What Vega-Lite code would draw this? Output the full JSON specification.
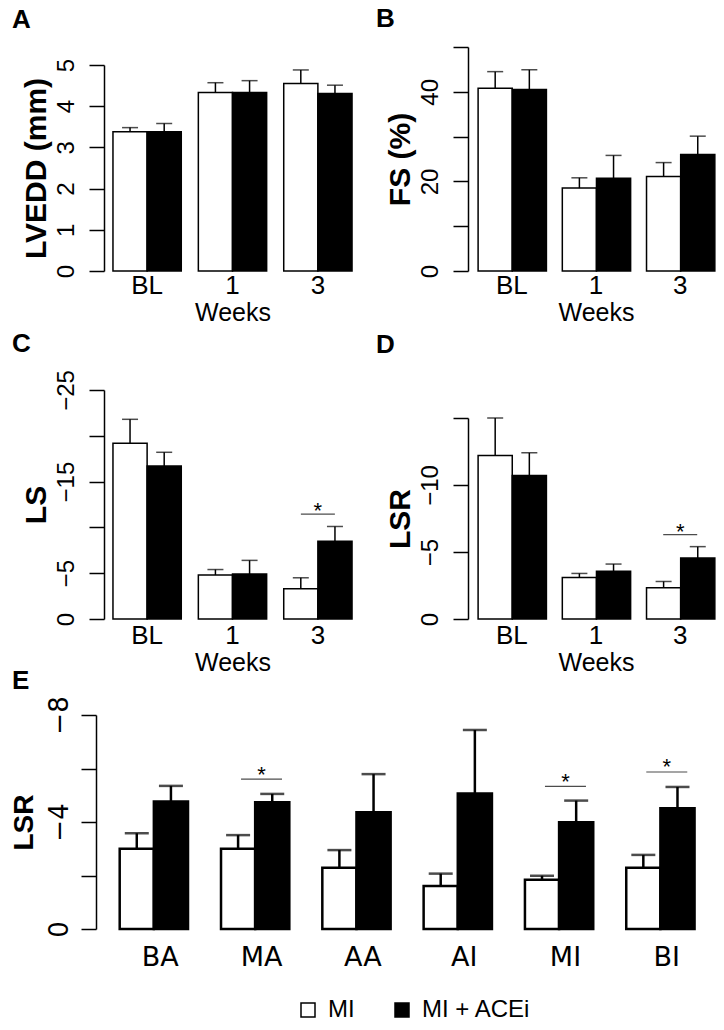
{
  "$schema": "https://vega.github.io/schema/vega-lite/v6.json",
  "padding": {"left": 10, "top": 6, "right": 0, "bottom": 0},
  "background": "white",
  "config": {
    "view": {"stroke": null},
    "font": "Liberation Sans",
    "axis": {"grid": false, "domainColor": "black", "tickColor": "black", "labelColor": "black", "titleColor": "black", "domainWidth": 1.5, "tickWidth": 1.5},
    "concat": {"spacing": 15},
    "legend": {"orient": "none", "legendX": 192, "legendY": 951, "direction": "horizontal", "title": null, "symbolType": "square", "symbolSize": 196, "symbolStrokeColor": "black", "symbolStrokeWidth": 1.5, "labelFont": "Liberation Sans", "labelFontSize": 24, "labelColor": "black", "labelOffset": 8, "columnPadding": 35, "padding": 0, "labelLimit": 300}
  },
  "datasets": {
    "A": [
      {"group": "BL", "trt": "MI", "value": 3.38, "err": 3.48},
      {"group": "BL", "trt": "MI + ACEi", "value": 3.38, "err": 3.58},
      {"group": "1", "trt": "MI", "value": 4.33, "err": 4.57},
      {"group": "1", "trt": "MI + ACEi", "value": 4.33, "err": 4.62},
      {"group": "3", "trt": "MI", "value": 4.55, "err": 4.88},
      {"group": "3", "trt": "MI + ACEi", "value": 4.31, "err": 4.51}
    ],
    "B": [
      {"group": "BL", "trt": "MI", "value": 40.8, "err": 44.5},
      {"group": "BL", "trt": "MI + ACEi", "value": 40.5, "err": 44.9},
      {"group": "1", "trt": "MI", "value": 18.5, "err": 20.8},
      {"group": "1", "trt": "MI + ACEi", "value": 20.7, "err": 25.8},
      {"group": "3", "trt": "MI", "value": 21.1, "err": 24.2},
      {"group": "3", "trt": "MI + ACEi", "value": 26.0, "err": 30.1}
    ],
    "C": [
      {"group": "BL", "trt": "MI", "value": -19.2, "err": -21.8},
      {"group": "BL", "trt": "MI + ACEi", "value": -16.7, "err": -18.2},
      {"group": "1", "trt": "MI", "value": -4.8, "err": -5.4},
      {"group": "1", "trt": "MI + ACEi", "value": -4.9, "err": -6.4},
      {"group": "3", "trt": "MI", "value": -3.3, "err": -4.5},
      {"group": "3", "trt": "MI + ACEi", "value": -8.5, "err": -10.1}
    ],
    "Csig": [{"group": "3", "line": -11.45, "star": -11.0}],
    "D": [
      {"group": "BL", "trt": "MI", "value": -12.2, "err": -15.0},
      {"group": "BL", "trt": "MI + ACEi", "value": -10.7, "err": -12.4},
      {"group": "1", "trt": "MI", "value": -3.1, "err": -3.4},
      {"group": "1", "trt": "MI + ACEi", "value": -3.56, "err": -4.1},
      {"group": "3", "trt": "MI", "value": -2.34, "err": -2.8},
      {"group": "3", "trt": "MI + ACEi", "value": -4.55, "err": -5.4}
    ],
    "Dsig": [{"group": "3", "line": -6.3, "star": -6.0}],
    "E": [
      {"group": "BA", "trt": "MI", "value": -3.0, "err": -3.58},
      {"group": "BA", "trt": "MI + ACEi", "value": -4.77, "err": -5.35},
      {"group": "MA", "trt": "MI", "value": -3.0, "err": -3.51},
      {"group": "MA", "trt": "MI + ACEi", "value": -4.74, "err": -5.05},
      {"group": "AA", "trt": "MI", "value": -2.29, "err": -2.95},
      {"group": "AA", "trt": "MI + ACEi", "value": -4.36, "err": -5.79},
      {"group": "AI", "trt": "MI", "value": -1.61, "err": -2.07},
      {"group": "AI", "trt": "MI + ACEi", "value": -5.07, "err": -7.44},
      {"group": "MI", "trt": "MI", "value": -1.84, "err": -1.99},
      {"group": "MI", "trt": "MI + ACEi", "value": -3.99, "err": -4.8},
      {"group": "BI", "trt": "MI", "value": -2.29, "err": -2.77},
      {"group": "BI", "trt": "MI + ACEi", "value": -4.51, "err": -5.31}
    ],
    "Esig": [
      {"group": "MA", "line": -5.6, "star": -5.51},
      {"group": "MI", "line": -5.33, "star": -5.25},
      {"group": "BI", "line": -5.87, "star": -5.81}
    ]
  },
  "spacing": -8,
  "vconcat": [
    {
      "spacing": 5,
      "vconcat": [
        {
          "hconcat": [
            {
              "title": {"text": "A", "anchor": "start", "frame": "group", "dx": -92, "offset": 14, "fontSize": 26, "fontWeight": "bold", "color": "black"},
              "width": 257, "height": 224,
              "data": {"name": "A"},
              "encoding": {
                "x": {"field": "group", "type": "nominal", "sort": ["BL", "1", "3"], "scale": {"paddingInner": 0.2, "paddingOuter": 0.105}, "title": "Weeks",
                  "axis": {"domain": false, "ticks": false, "tickSize": 0, "labelAngle": 0, "labelFontSize": 26, "labelPadding": 1, "titleFontSize": 25, "titleFontWeight": "normal", "titlePadding": 2}},
                "xOffset": {"field": "trt", "type": "nominal", "sort": ["MI", "MI + ACEi"], "scale": {"paddingInner": 0, "paddingOuter": 0}}
              },
              "layer": [
                {"mark": {"type": "bar", "stroke": "black", "strokeWidth": 1.5},
                  "encoding": {
                    "y": {"field": "value", "type": "quantitative", "scale": {"domain": [0, 5], "nice": false, "range": [224, 18]}, "title": "LVEDD (mm)",
                      "axis": {"values": [0, 1, 2, 3, 4, 5], "tickSize": 15, "labelAngle": -90, "labelAlign": "center", "labelBaseline": "bottom", "labelFontSize": 24, "labelPadding": 11, "titleFontSize": 30, "titleFontWeight": "bold", "titlePadding": 3}},
                    "fill": {"field": "trt", "type": "nominal", "scale": {"domain": ["MI", "MI + ACEi"], "range": ["white", "black"]}}
                  }},
                {"mark": {"type": "rule", "color": "black", "strokeWidth": 1.5}, "encoding": {"y": {"field": "value", "type": "quantitative"}, "y2": {"field": "err"}}},
                {"mark": {"type": "tick", "orient": "horizontal", "size": 16, "thickness": 1.5, "color": "black"}, "encoding": {"y": {"field": "err", "type": "quantitative"}}}
              ]
            },
            {
              "title": {"text": "B", "anchor": "start", "frame": "group", "dx": -92, "offset": 14, "fontSize": 26, "fontWeight": "bold", "color": "black"},
              "width": 256, "height": 224,
              "data": {"name": "B"},
              "encoding": {
                "x": {"field": "group", "type": "nominal", "sort": ["BL", "1", "3"], "scale": {"paddingInner": 0.2, "paddingOuter": 0.12}, "title": "Weeks",
                  "axis": {"domain": false, "ticks": false, "tickSize": 0, "labelAngle": 0, "labelFontSize": 26, "labelPadding": 1, "titleFontSize": 25, "titleFontWeight": "normal", "titlePadding": 2}},
                "xOffset": {"field": "trt", "type": "nominal", "sort": ["MI", "MI + ACEi"], "scale": {"paddingInner": 0, "paddingOuter": 0}}
              },
              "layer": [
                {"mark": {"type": "bar", "stroke": "black", "strokeWidth": 1.5},
                  "encoding": {
                    "y": {"field": "value", "type": "quantitative", "scale": {"domain": [0, 50], "nice": false}, "title": "FS (%)",
                      "axis": {"values": [0, 10, 20, 30, 40, 50], "labelExpr": "datum.value == 10 || datum.value == 30 || datum.value == 50 ? '' : datum.label", "tickSize": 15, "labelAngle": -90, "labelAlign": "center", "labelBaseline": "bottom", "labelFontSize": 24, "labelPadding": 11, "titleFontSize": 30, "titleFontWeight": "bold", "titlePadding": 3}},
                    "fill": {"field": "trt", "type": "nominal", "scale": {"domain": ["MI", "MI + ACEi"], "range": ["white", "black"]}}
                  }},
                {"mark": {"type": "rule", "color": "black", "strokeWidth": 1.5}, "encoding": {"y": {"field": "value", "type": "quantitative"}, "y2": {"field": "err"}}},
                {"mark": {"type": "tick", "orient": "horizontal", "size": 16, "thickness": 1.5, "color": "black"}, "encoding": {"y": {"field": "err", "type": "quantitative"}}}
              ]
            }
          ]
        },
        {
          "hconcat": [
            {
              "title": {"text": "C", "anchor": "start", "frame": "group", "dx": -92, "offset": 13, "fontSize": 26, "fontWeight": "bold", "color": "black"},
              "width": 257, "height": 229,
              "encoding": {
                "x": {"field": "group", "type": "nominal", "sort": ["BL", "1", "3"], "scale": {"paddingInner": 0.2, "paddingOuter": 0.105}, "title": "Weeks",
                  "axis": {"domain": false, "ticks": false, "tickSize": 0, "labelAngle": 0, "labelFontSize": 26, "labelPadding": 3, "titleFontSize": 25, "titleFontWeight": "normal", "titlePadding": 2}}
              },
              "layer": [
                {"data": {"name": "C"}, "mark": {"type": "bar", "stroke": "black", "strokeWidth": 1.5},
                  "encoding": {
                    "xOffset": {"field": "trt", "type": "nominal", "sort": ["MI", "MI + ACEi"], "scale": {"paddingInner": 0, "paddingOuter": 0}},
                    "y": {"field": "value", "type": "quantitative", "scale": {"domain": [0, -25], "nice": false}, "title": "LS",
                      "axis": {"values": [0, -5, -10, -15, -20, -25], "labelExpr": "datum.value == -10 || datum.value == -20 ? '' : datum.label", "tickSize": 15, "labelAngle": -90, "labelAlign": "center", "labelBaseline": "bottom", "labelFontSize": 24, "labelPadding": 11, "titleFontSize": 30, "titleFontWeight": "bold", "titlePadding": 3}},
                    "fill": {"field": "trt", "type": "nominal", "scale": {"domain": ["MI", "MI + ACEi"], "range": ["white", "black"]}}
                  }},
                {"data": {"name": "C"}, "mark": {"type": "rule", "color": "black", "strokeWidth": 1.5}, "encoding": {"xOffset": {"field": "trt", "type": "nominal", "sort": ["MI", "MI + ACEi"]}, "y": {"field": "value", "type": "quantitative"}, "y2": {"field": "err"}}},
                {"data": {"name": "C"}, "mark": {"type": "tick", "orient": "horizontal", "size": 16, "thickness": 1.5, "color": "black"}, "encoding": {"xOffset": {"field": "trt", "type": "nominal", "sort": ["MI", "MI + ACEi"]}, "y": {"field": "err", "type": "quantitative"}}},
                {"data": {"name": "Csig"}, "mark": {"type": "tick", "orient": "horizontal", "size": 34, "thickness": 1.2, "color": "black"}, "encoding": {"y": {"field": "line", "type": "quantitative"}}},
                {"data": {"name": "Csig"}, "mark": {"type": "text", "text": "*", "fontSize": 22, "baseline": "alphabetic", "align": "center", "color": "black"}, "encoding": {"y": {"field": "star", "type": "quantitative"}}}
              ]
            },
            {
              "title": {"text": "D", "anchor": "start", "frame": "group", "dx": -92, "offset": 32, "fontSize": 26, "fontWeight": "bold", "color": "black"},
              "width": 256, "height": 229,
              "encoding": {
                "x": {"field": "group", "type": "nominal", "sort": ["BL", "1", "3"], "scale": {"paddingInner": 0.2, "paddingOuter": 0.12}, "title": "Weeks",
                  "axis": {"domain": false, "ticks": false, "tickSize": 0, "labelAngle": 0, "labelFontSize": 26, "labelPadding": 3, "titleFontSize": 25, "titleFontWeight": "normal", "titlePadding": 2}}
              },
              "layer": [
                {"data": {"name": "D"}, "mark": {"type": "bar", "stroke": "black", "strokeWidth": 1.5},
                  "encoding": {
                    "xOffset": {"field": "trt", "type": "nominal", "sort": ["MI", "MI + ACEi"], "scale": {"paddingInner": 0, "paddingOuter": 0}},
                    "y": {"field": "value", "type": "quantitative", "scale": {"domain": [0, -15], "nice": false, "range": [229, 28]}, "title": "LSR",
                      "axis": {"values": [0, -5, -10, -15], "labelExpr": "datum.value == -15 ? '' : datum.label", "tickSize": 15, "labelAngle": -90, "labelAlign": "center", "labelBaseline": "bottom", "labelFontSize": 24, "labelPadding": 11, "titleFontSize": 30, "titleFontWeight": "bold", "titlePadding": 3}},
                    "fill": {"field": "trt", "type": "nominal", "scale": {"domain": ["MI", "MI + ACEi"], "range": ["white", "black"]}}
                  }},
                {"data": {"name": "D"}, "mark": {"type": "rule", "color": "black", "strokeWidth": 1.5}, "encoding": {"xOffset": {"field": "trt", "type": "nominal", "sort": ["MI", "MI + ACEi"]}, "y": {"field": "value", "type": "quantitative"}, "y2": {"field": "err"}}},
                {"data": {"name": "D"}, "mark": {"type": "tick", "orient": "horizontal", "size": 16, "thickness": 1.5, "color": "black"}, "encoding": {"xOffset": {"field": "trt", "type": "nominal", "sort": ["MI", "MI + ACEi"]}, "y": {"field": "err", "type": "quantitative"}}},
                {"data": {"name": "Dsig"}, "mark": {"type": "tick", "orient": "horizontal", "size": 34, "thickness": 1.2, "color": "black"}, "encoding": {"y": {"field": "line", "type": "quantitative"}}},
                {"data": {"name": "Dsig"}, "mark": {"type": "text", "text": "*", "fontSize": 22, "baseline": "alphabetic", "align": "center", "color": "black"}, "encoding": {"y": {"field": "star", "type": "quantitative"}}}
              ]
            }
          ]
        }
      ]
    },
    {
      "title": {"text": "E", "anchor": "start", "frame": "group", "dx": -92, "offset": 2, "fontSize": 26, "fontWeight": "bold", "color": "black"},
      "width": 619, "height": 214,
      "encoding": {
        "x": {"field": "group", "type": "nominal", "sort": ["BA", "MA", "AA", "AI", "MI", "BI"], "scale": {"paddingInner": 0.2, "paddingOuter": 0.155}, "title": null,
          "axis": {"domain": false, "ticks": false, "tickSize": 0, "labelAngle": 0, "labelFont": "DejaVu Sans", "labelFontSize": 27, "labelPadding": 15}}
      },
      "layer": [
        {"data": {"name": "E"}, "mark": {"type": "bar", "stroke": "black", "strokeWidth": 2.5},
          "encoding": {
            "xOffset": {"field": "trt", "type": "nominal", "sort": ["MI", "MI + ACEi"], "scale": {"paddingInner": 0, "paddingOuter": 0}},
            "y": {"field": "value", "type": "quantitative", "scale": {"domain": [0, -8], "nice": false}, "title": "LSR",
              "axis": {"values": [0, -2, -4, -6, -8], "labelExpr": "datum.value == -2 || datum.value == -6 ? '' : datum.label", "offset": 8, "tickSize": 15, "labelAngle": -90, "labelAlign": "center", "labelBaseline": "bottom", "labelFont": "DejaVu Sans", "labelFontSize": 26, "labelPadding": 9, "titleFontSize": 28, "titleFontWeight": "bold", "titlePadding": 8}},
            "fill": {"field": "trt", "type": "nominal", "scale": {"domain": ["MI", "MI + ACEi"], "range": ["white", "black"]}}
          }},
        {"data": {"name": "E"}, "mark": {"type": "rule", "color": "black", "strokeWidth": 2.5}, "encoding": {"xOffset": {"field": "trt", "type": "nominal", "sort": ["MI", "MI + ACEi"]}, "y": {"field": "value", "type": "quantitative"}, "y2": {"field": "err"}}},
        {"data": {"name": "E"}, "mark": {"type": "tick", "orient": "horizontal", "size": 24, "thickness": 2.5, "color": "black"}, "encoding": {"xOffset": {"field": "trt", "type": "nominal", "sort": ["MI", "MI + ACEi"]}, "y": {"field": "err", "type": "quantitative"}}},
        {"data": {"name": "Esig"}, "mark": {"type": "tick", "orient": "horizontal", "size": 41, "thickness": 1.2, "color": "black"}, "encoding": {"y": {"field": "line", "type": "quantitative"}}},
        {"data": {"name": "Esig"}, "mark": {"type": "text", "text": "*", "fontSize": 22, "baseline": "alphabetic", "align": "center", "color": "black"}, "encoding": {"y": {"field": "star", "type": "quantitative"}}}
      ]
    }
  ]
}
